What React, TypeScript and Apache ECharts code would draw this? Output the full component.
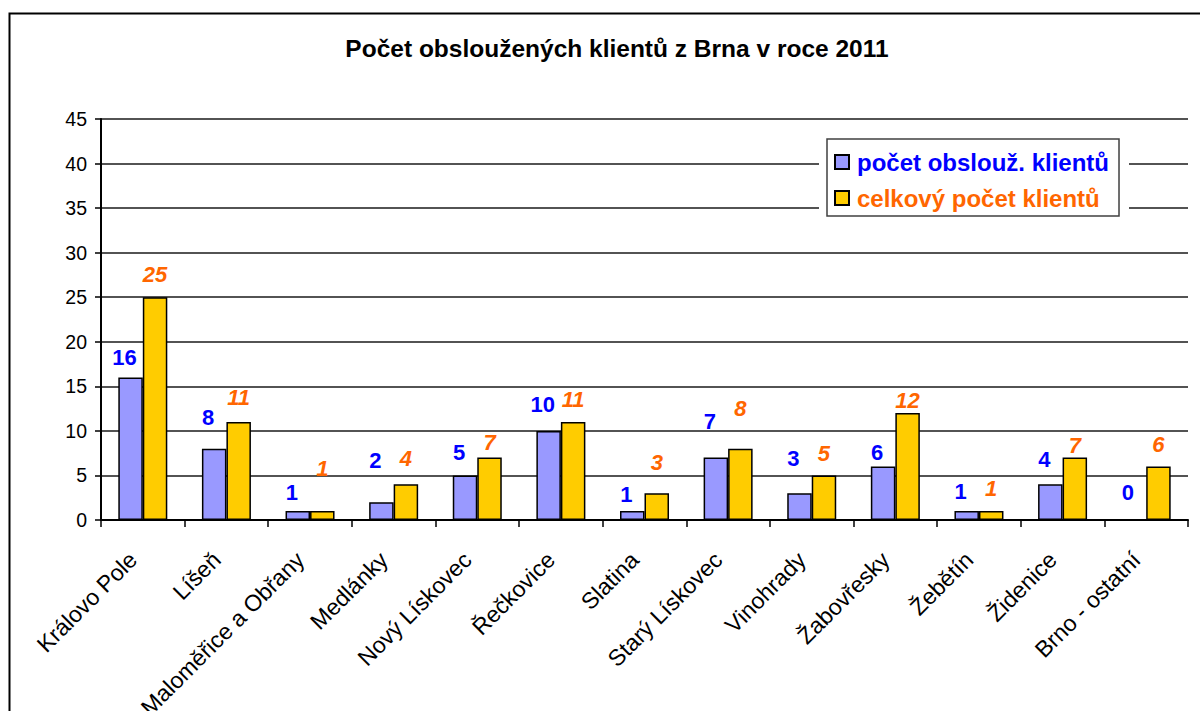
import React, { useEffect, useRef } from "react";
import * as echarts from "echarts";

const titleText = "Počet obsloužených klientů z Brna v roce 2011";
const categories = [
  "Královo Pole",
  "Líšeň",
  "Maloměřice a Obřany",
  "Medlánky",
  "Nový Lískovec",
  "Řečkovice",
  "Slatina",
  "Starý Lískovec",
  "Vinohrady",
  "Žabovřesky",
  "Žebětín",
  "Židenice",
  "Brno - ostatní",
];
const seriesNames = ["počet obslouž. klientů", "celkový počet klientů"];
const served = [16, 8, 1, 2, 5, 10, 1, 7, 3, 6, 1, 4, 0];
const total = [25, 11, 1, 4, 7, 11, 3, 8, 5, 12, 1, 7, 6];
const yMin = 0;
const yMax = 45;
const yStep = 5;

// label placement (px of label centre above the bar top)
const servedLabelRise = [20, 31, 19, 42, 23, 26, 17, 36, 35, 14, 20, 25, 27];
const totalLabelRise = [23, 24, 43, 26, 15, 22, 31, 40, 22, 13, 23, 12, 22];

const BLUE = "#0000FF";
const ORANGE = "#FF6600";
const LABEL_SIZE = 22;
const FONT = "Liberation Sans, Arial, sans-serif";

export default function App() {
  const ref = useRef<HTMLDivElement>(null);
  useEffect(() => {
    document.body.style.margin = "0";
    const chart = echarts.init(ref.current!, null, { renderer: "svg" });
    const mk = (vals: number[], rises: number[]) =>
      vals.map((v, i) => ({
        value: v,
        label: { distance: Math.max(0, rises[i] - LABEL_SIZE / 2) },
      }));
    chart.setOption({
      animation: false,
      backgroundColor: "#ffffff",
      textStyle: { fontFamily: FONT },
      title: {
        text: titleText,
        left: 612,
        textAlign: "center",
        top: 31,
        textStyle: { fontSize: 24.5, fontWeight: "bold", color: "#000", fontFamily: FONT },
      },
      legend: {
        orient: "vertical",
        left: 827,
        top: 139,
        z: 100,
        padding: [11, 10, 6, 7],
        itemGap: 12,
        itemWidth: 14,
        itemHeight: 14,
        icon: "rect",
        backgroundColor: "#fff",
        borderColor: "#404040",
        borderWidth: 1.5,
        selectedMode: false,
        textStyle: {
          fontSize: 24,
          fontWeight: "bold",
          lineHeight: 24,
          padding: [0, 0, 0, 3],
          fontFamily: FONT,
        },
        data: [
          { name: seriesNames[0], textStyle: { color: BLUE } },
          { name: seriesNames[1], textStyle: { color: ORANGE } },
        ],
      },
      graphic: [
        {
          type: "rect",
          silent: true,
          z: 50,
          shape: { x: 819, y: 132, width: 310, height: 92 },
          style: { fill: "#ffffff" },
        },
        {
          type: "rect",
          silent: true,
          z: 0,
          shape: { x: 9.5, y: 13.5, width: 1220, height: 740 },
          style: { fill: "none", stroke: "#000", lineWidth: 2 },
        },
      ],
      grid: {
        left: 101,
        right: 12,
        top: 119,
        bottom: 191,
        containLabel: false,
        outerBoundsMode: "none",
      },
      xAxis: {
        type: "category",
        data: categories,
        axisLine: { lineStyle: { color: "#000", width: 2 } },
        axisTick: { show: true, length: 7, lineStyle: { color: "#000", width: 1.5 } },
        axisLabel: {
          rotate: 45,
          interval: 0,
          margin: 26,
          padding: [0, 14, 0, 0],
          fontSize: 23,
          color: "#000",
          fontFamily: FONT,
        },
      },
      yAxis: {
        type: "value",
        min: yMin,
        max: yMax,
        interval: yStep,
        axisLine: { show: true, lineStyle: { color: "#000", width: 2 } },
        axisTick: { show: true, length: 6, lineStyle: { color: "#000", width: 1.5 } },
        axisLabel: { fontSize: 19.5, color: "#000", margin: 14, fontFamily: FONT },
        splitLine: { show: true, lineStyle: { color: "#1a1a1a", width: 1.5 } },
      },
      series: [
        {
          name: seriesNames[0],
          type: "bar",
          barWidth: 24.5,
          barGap: "0%",
          data: mk(served, servedLabelRise),
          itemStyle: { color: "#9999FF", borderColor: "#000", borderWidth: 1.5 },
          label: {
            show: true,
            position: "top",
            offset: [-6, 0],
            color: BLUE,
            fontSize: LABEL_SIZE,
            fontWeight: "bold",
            fontFamily: FONT,
          },
        },
        {
          name: seriesNames[1],
          type: "bar",
          barWidth: 24.5,
          barGap: "0%",
          data: mk(total, totalLabelRise),
          itemStyle: { color: "#FFCC00", borderColor: "#000", borderWidth: 1.5 },
          label: {
            show: true,
            position: "top",
            color: ORANGE,
            fontSize: LABEL_SIZE,
            fontWeight: "bold",
            fontStyle: "italic",
            fontFamily: FONT,
          },
        },
      ],
    });
    return () => chart.dispose();
  }, []);
  return <div ref={ref} style={{ width: 1200, height: 711 }} />;
}
